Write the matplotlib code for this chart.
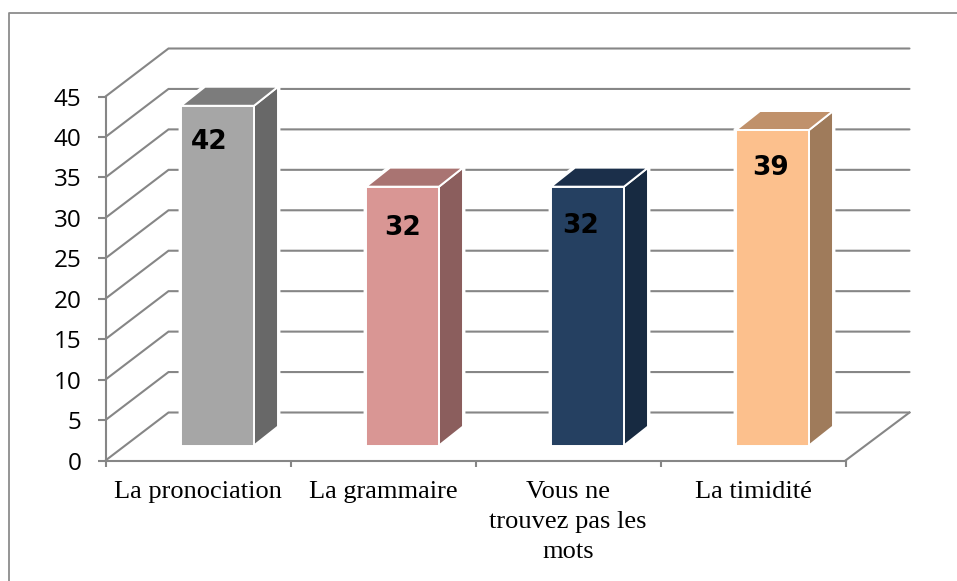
import matplotlib
matplotlib.use("Agg")
import matplotlib.pyplot as plt
from matplotlib.patches import Polygon
from matplotlib.lines import Line2D

categories = ["La pronociation", "La grammaire", "Vous ne\ntrouvez pas les\nmots", "La timidité"]
values = [42, 32, 32, 39]
y_ticks = list(range(0, 50, 5))
front_colors = ["#A6A6A6", "#D99694", "#254061", "#FCC08D"]
top_colors = ["#7C7C7C", "#A97472", "#1B2F4A", "#C0916B"]
side_colors = ["#686868", "#8B5E5D", "#172A41", "#9F7B5B"]

W, H = 957, 581
fig = plt.figure(figsize=(W / 100, H / 100), dpi=100)
L, R, B, T = 105.5, 845.5, 460.5, 96.5
ax = fig.add_axes([L / W, 1 - B / H, (R - L) / W, (B - T) / H])
ax.set_xlim(0, 4)
ax.set_ylim(0, 45)
ax.patch.set_visible(False)
PX = 4 / (R - L)
PY = 45 / (B - T)
GRID = "#868686"
LW = 1.5

# Outer frame, cut off by the right and bottom edges of the picture
fig.add_artist(Line2D([8.5 / W, 8.5 / W, 1], [0, 1 - 12.5 / H, 1 - 12.5 / H],
                      color="#8C8C8C", lw=1.3))

# Walls: gridlines running from the front plane to the back wall
dx, dy = 63 * PX, 48 * PY
back_right = 4 + 64 * PX
for v in y_ticks:
    ax.plot([0, dx, back_right], [v, v + dy, v + dy], color=GRID, lw=LW,
            clip_on=False, zorder=1, solid_capstyle="round", solid_joinstyle="miter")
ax.plot([4, back_right], [0, dy], color=GRID, lw=LW, clip_on=False, zorder=1)

# 3-D bars
bar_x = 75.5 * PX
bar_w = 73 * PX
bar_y = 15 * PY
sx, sy = 24 * PX, 19 * PY
label_dx = [-8, 0, -7, -2]
label_dy = [36, 41, 39, 38]
for i, v in enumerate(values):
    x0, x1 = i + bar_x, i + bar_x + bar_w
    y0, y1 = bar_y, v + bar_y
    # White halo that keeps the gridlines clear of the bar
    ax.add_patch(Polygon([(x0, y0), (x1, y0), (x1 + sx, y0 + sy), (x1 + sx, y1 + sy),
                          (x0 + sx, y1 + sy), (x0, y1)],
                         facecolor="white", edgecolor="white", lw=3.5,
                         clip_on=False, zorder=2))
    kw = dict(edgecolor="white", lw=1.4, clip_on=False, zorder=3, joinstyle="miter")
    ax.add_patch(Polygon([(x1, y0), (x1 + sx, y0 + sy), (x1 + sx, y1 + sy), (x1, y1)],
                         facecolor=side_colors[i], **kw))
    ax.add_patch(Polygon([(x0, y1), (x0 + sx, y1 + sy), (x1 + sx, y1 + sy), (x1, y1)],
                         facecolor=top_colors[i], **kw))
    ax.add_patch(Polygon([(x0, y0), (x1, y0), (x1, y1), (x0, y1)],
                         facecolor=front_colors[i], **kw))
    ax.text((x0 + x1) / 2 + label_dx[i] * PX, y1 - label_dy[i] * PY, str(v),
            ha="center", va="center", fontsize=19, fontweight="bold",
            family="DejaVu Sans", color="black", zorder=4)

# Axes
for s in ("top", "right"):
    ax.spines[s].set_visible(False)
for s in ("left", "bottom"):
    ax.spines[s].set_color(GRID)
    ax.spines[s].set_linewidth(LW)
ax.set_yticks(y_ticks)
ax.set_yticklabels([str(v) for v in y_ticks], family="Open Sans", fontsize=17.5, color="black")
ax.tick_params(axis="y", length=5.8, width=LW, color=GRID, pad=11.5)
ax.set_xticks(range(5))
ax.set_xticklabels([])
ax.tick_params(axis="x", which="major", length=4.5, width=LW, color=GRID)
ax.set_xticks([i + 0.5 for i in range(4)], minor=True)
ax.set_xticklabels(categories, minor=True, family="Liberation Serif", fontsize=19,
                   color="black", linespacing=1.45)
ax.tick_params(axis="x", which="minor", length=0, pad=15)

fig.savefig("out.png", dpi=100, facecolor="white")
